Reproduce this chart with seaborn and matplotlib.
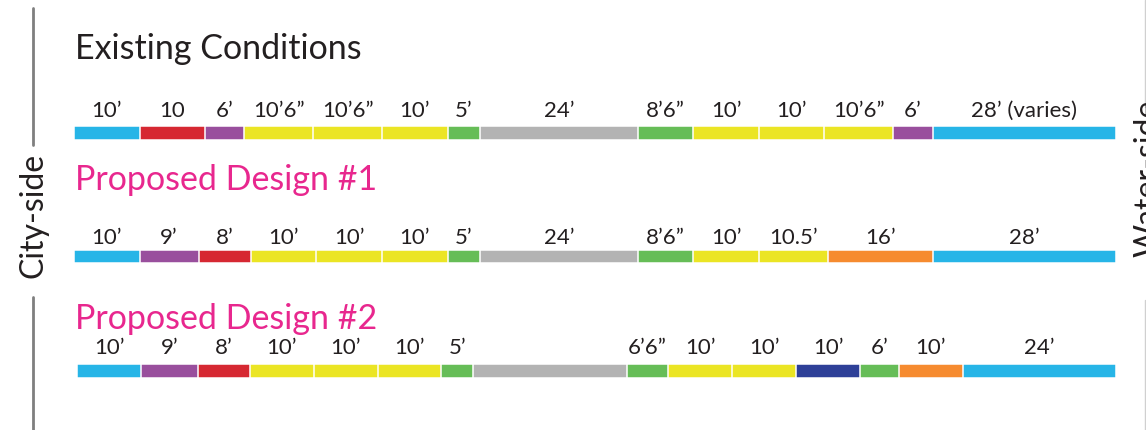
import numpy as np
import pandas as pd
import matplotlib
matplotlib.use("Agg")
import matplotlib.pyplot as plt
import seaborn as sns
from matplotlib.lines import Line2D

# ==============================
# Data: segment widths (feet), labels and colour keys, city-side -> water-side
# ==============================
existing_widths = [10, 10, 6, 10.5, 10.5, 10, 5, 24, 8.5, 10, 10, 10.5, 6, 28]
existing_labels = ["10’", "10", "6’", "10’6”", "10’6”", "10’", "5’", "24’",
                   "8’6”", "10’", "10’", "10’6”", "6’", "28’ (varies)"]
existing_colors = ["blue", "red", "purple", "yellow", "yellow", "yellow", "green",
                   "gray", "green", "yellow", "yellow", "yellow", "purple", "blue"]

design1_widths = [10, 9, 8, 10, 10, 10, 5, 24, 8.5, 10, 10.5, 16, 28]
design1_labels = ["10’", "9’", "8’", "10’", "10’", "10’", "5’", "24’",
                  "8’6”", "10’", "10.5’", "16’", "28’"]
design1_colors = ["blue", "purple", "red", "yellow", "yellow", "yellow", "green",
                  "gray", "green", "yellow", "yellow", "orange", "blue"]

design2_widths = [10, 9, 8, 10, 10, 10, 5, 24, 6.5, 10, 10, 10, 6, 10, 24]
design2_labels = ["10’", "9’", "8’", "10’", "10’", "10’", "5’", "",
                  "6’6”", "10’", "10’", "10’", "6’", "10’", "24’"]
design2_colors = ["blue", "purple", "red", "yellow", "yellow", "yellow", "green",
                  "gray", "green", "yellow", "yellow", "navy", "green", "orange", "blue"]

titles = ["Existing Conditions", "Proposed Design #1", "Proposed Design #2"]

palette = {
    "blue": "#27B5E7",
    "red": "#D62832",
    "purple": "#994F9D",
    "yellow": "#EBE524",
    "green": "#66BD57",
    "gray": "#B3B3B3",
    "orange": "#F68B2F",
    "navy": "#2E4098",
}
pink = "#E8278E"
ink = "#231F20"

# ==============================
# Style
# ==============================
sns.set_theme(style="white")
plt.rcParams["font.family"] = ["Lato", "DejaVu Sans"]

W, H = 1146, 430
fig = plt.figure(figsize=(W / 100, H / 100), dpi=100)


def px_axes(x, y, w, h):
    return fig.add_axes([x / W, 1 - (y + h) / H, w / W, h / H])


def draw_row(ax, widths, labels, colors, label_off):
    widths = np.array(widths, dtype=float)
    ends = np.cumsum(widths)
    centers = ends - widths / 2
    keys = [f"s{i:02d}" for i in range(len(widths))]
    df = pd.DataFrame({"seg": keys, "end": ends, "row": "r"})
    pal = {k: palette[c] for k, c in zip(keys, colors)}
    # longest cumulative bar first, shorter ones drawn on top -> stacked look
    sns.barplot(data=df, x="end", y="row", hue="seg", hue_order=keys[::-1],
                palette=pal, saturation=1, dodge=False, width=1, orient="h",
                errorbar=None, edgecolor="white", linewidth=1.1, legend=False, ax=ax)
    ax.set_xlim(0, ends[-1])
    ax.set_ylim(0.5, -0.5)
    ax.axis("off")
    for c, lab in zip(centers, labels):
        ax.annotate(lab, xy=(c, 1), xycoords=("data", "axes fraction"),
                    xytext=(0, label_off), textcoords="offset points",
                    ha="center", va="baseline", fontsize=16, color=ink)


rows = [
    (existing_widths, existing_labels, existing_colors, (74, 126, 1042, 14), 6.5),
    (design1_widths, design1_labels, design1_colors, (74, 250, 1042, 13), 4.6),
    (design2_widths, design2_labels, design2_colors, (77, 364, 1039, 14), 7.0),
]
for widths, labels, colors, rect, off in rows:
    draw_row(px_axes(*rect), widths, labels, colors, off)

# titles
title_base = [59, 190, 329]
title_color = [ink, pink, pink]
for t, yb, col in zip(titles, title_base, title_color):
    fig.text(75 / W, 1 - yb / H, t, fontsize=24.5, color=col, va="baseline", ha="left")

# city-side marker
fig.add_artist(Line2D([33 / W, 33 / W], [1 - 8 / H, 1 - 145 / H], color="#7F7F7F", lw=2))
fig.add_artist(Line2D([33 / W, 33 / W], [1 - 297 / H, 0], color="#7F7F7F", lw=2))
fig.text(33 / W, 1 - 215 / H, "City-side", rotation=90, fontsize=23, color=ink,
         ha="center", va="center")

# water-side marker (cut off at the right edge, as in the source drawing)
fig.add_artist(Line2D([1145 / W, 1145 / W], [1, 1 - 107 / H], color="#D0D0D0", lw=1))
fig.add_artist(Line2D([1145 / W, 1145 / W], [1 - 300 / H, 0], color="#D0D0D0", lw=1))
fig.text(1133 / W, 1 - 257 / H, "Water-side", rotation=90, fontsize=23, color=ink,
         ha="left", va="bottom")

fig.savefig("out.png", dpi=100)
